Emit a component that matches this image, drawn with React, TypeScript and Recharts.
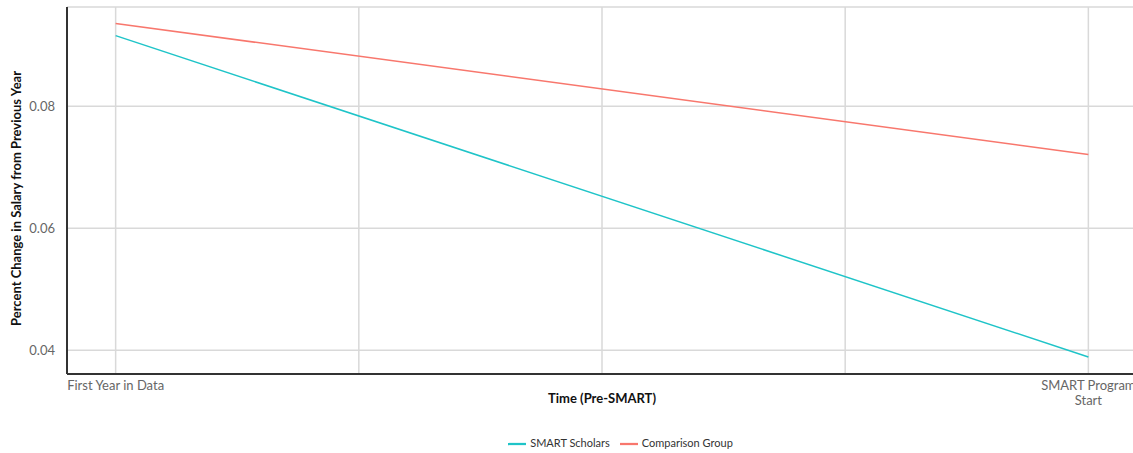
import React from "react";
import { LineChart, Line, XAxis, YAxis, CartesianGrid, Legend } from "recharts";

const timePoints = [1, 5];
const smartScholars = [0.0916, 0.0389];
const comparisonGroup = [0.0936, 0.0721];
const xTicks = [1, 2, 3, 4, 5];
const xTickLabels: Record<number, string[]> = {
  1: ["First Year in Data"],
  5: ["SMART Program", "Start"],
};
const yTicks = [0.04, 0.06, 0.08];
const seriesOrder = ["SMART Scholars", "Comparison Group"];

const data = timePoints.map((t, i) => ({
  t,
  scholars: smartScholars[i],
  comparison: comparisonGroup[i],
}));

const FONT = "Lato, 'Open Sans', sans-serif";

const XTick = (props: any) => {
  const { x, y, payload } = props;
  const lines = xTickLabels[payload.value] || [];
  return (
    <text x={x} y={y} textAnchor="middle" fill="#666" fontSize={13} fontFamily={FONT}>
      {lines.map((l, i) => (
        <tspan key={i} x={x} dy={i === 0 ? "0.9em" : "1.15em"}>
          {l}
        </tspan>
      ))}
    </text>
  );
};

const App: React.FC = () => {
  return (
    <div
      style={{
        position: "absolute",
        left: 0,
        top: 0,
        width: 1133,
        height: 453,
        overflow: "hidden",
        background: "#fff",
        fontFamily: FONT,
      }}
    >
      <LineChart
        width={1137}
        height={453}
        data={data}
        margin={{ top: 7, right: 0, bottom: 0, left: 0 }}
      >
        <CartesianGrid stroke="#d9d9d9" strokeWidth={1.5} />
        <XAxis
          dataKey="t"
          type="number"
          domain={[0.8, 5.2]}
          ticks={xTicks}
          interval={0}
          height={57}
          tickLine={false}
          tickSize={0}
          tickMargin={4}
          axisLine={{ stroke: "#333", strokeWidth: 2 }}
          tick={<XTick />}
          label={{
            value: "Time (Pre-SMART)",
            position: "insideTop",
            offset: 20,
            style: { fontWeight: "bold", fill: "#111", fontSize: 13, fontFamily: FONT },
          }}
        />
        <YAxis
          type="number"
          domain={[0.0361, 0.0963]}
          ticks={yTicks}
          width={67}
          tickLine={false}
          tickMargin={6}
          axisLine={{ stroke: "#333", strokeWidth: 2 }}
          tick={{ fill: "#666", fontSize: 13, fontFamily: FONT }}
          tickFormatter={(v: number) => v.toFixed(2)}
          label={{
            value: "Percent Change in Salary from Previous Year",
            angle: -90,
            position: "insideLeft",
            offset: 16,
            dy: 8,
            style: { textAnchor: "middle", fontWeight: "bold", fill: "#111", fontSize: 13, fontFamily: FONT },
          }}
        />
        <Legend
          verticalAlign="bottom"
          height={22}
          iconType="plainline"
          iconSize={18}
          itemSorter={(item: any) => seriesOrder.indexOf(item.value)}
          wrapperStyle={{ fontSize: 11, fontFamily: FONT, color: "#333", bottom: -4, left: 57 }}
          formatter={(value) => <span style={{ color: "#333" }}>{value}</span>}
        />
        <Line
          type="linear"
          dataKey="scholars"
          name="SMART Scholars"
          stroke="#1fc4c8"
          strokeWidth={1.5}
          dot={false}
          isAnimationActive={false}
        />
        <Line
          type="linear"
          dataKey="comparison"
          name="Comparison Group"
          stroke="#f8776d"
          strokeWidth={1.5}
          dot={false}
          isAnimationActive={false}
        />
      </LineChart>
    </div>
  );
};

export default App;
